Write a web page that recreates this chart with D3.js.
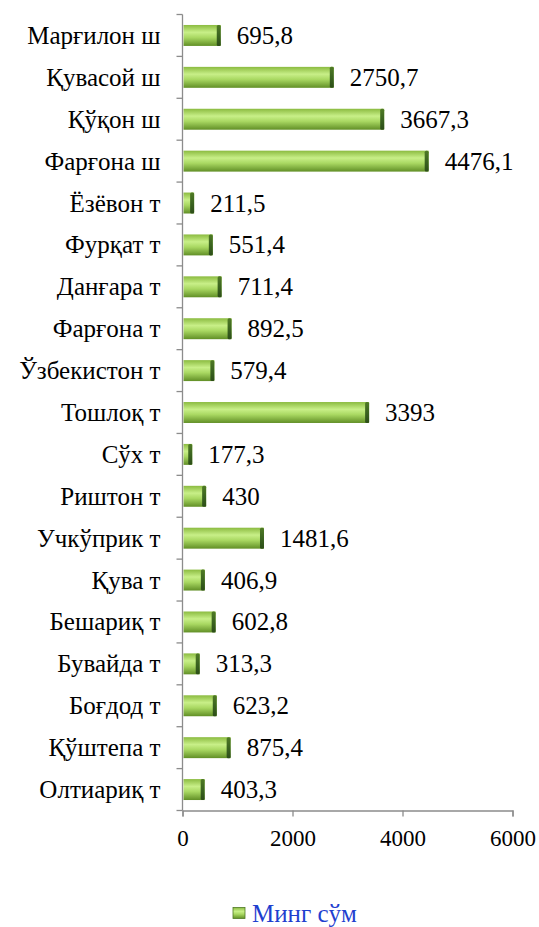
<!DOCTYPE html>
<html>
<head>
<meta charset="utf-8">
<script src="https://cdn.jsdelivr.net/npm/d3@7"></script>
</head>
<body style="margin:0">
<svg id="chart" width="539" height="927" font-family="Times New Roman"></svg>
<script>
// data
const categories = ['Марғилон ш', 'Қувасой ш', 'Қўқон ш', 'Фарғона ш', 'Ёзёвон т', 'Фурқат т',
  'Данғара т', 'Фарғона т', 'Ўзбекистон т', 'Тошлоқ т', 'Сўх т', 'Риштон т', 'Учкўприк т',
  'Қува т', 'Бешариқ т', 'Бувайда т', 'Боғдод т', 'Қўштепа т', 'Олтиариқ т'];
const values = [695.8, 2750.7, 3667.3, 4476.1, 211.5, 551.4, 711.4, 892.5, 579.4, 3393,
  177.3, 430, 1481.6, 406.9, 602.8, 313.3, 623.2, 875.4, 403.3];
const valueLabels = ['695,8', '2750,7', '3667,3', '4476,1', '211,5', '551,4', '711,4', '892,5',
  '579,4', '3393', '177,3', '430', '1481,6', '406,9', '602,8', '313,3', '623,2', '875,4', '403,3'];
const xTicks = [0, 2000, 4000, 6000];
const seriesName = 'Минг сўм';

const width = 539, height = 927;
const margin = { top: 14.5, left: 182.5, right: 26.5, bottom: 116.5 };
const font = d => "'Times New Roman', monospace";

const svg = d3.select('#chart').style('display', 'block');

// gradient for the bars
const defs = svg.append('defs');
const grad = defs.append('linearGradient')
  .attr('id', 'barGrad')
  .attr('x1', 0).attr('y1', 0).attr('x2', 0).attr('y2', 1);
grad.append('stop').attr('offset', '0%').attr('stop-color', '#8bbb40');
grad.append('stop').attr('offset', '35%').attr('stop-color', '#c8ef88');
grad.append('stop').attr('offset', '60%').attr('stop-color', '#a9d862');
grad.append('stop').attr('offset', '100%').attr('stop-color', '#618f26');

const capGrad = defs.append('linearGradient')
  .attr('id', 'capGrad')
  .attr('x1', 0).attr('y1', 0).attr('x2', 0).attr('y2', 1);
capGrad.append('stop').attr('offset', '0%').attr('stop-color', '#4f7a25');
capGrad.append('stop').attr('offset', '50%').attr('stop-color', '#3b6420');
capGrad.append('stop').attr('offset', '100%').attr('stop-color', '#2c4d18');

const x = d3.scaleLinear()
  .domain([0, 6000])
  .range([margin.left, width - margin.right]);

const y = d3.scaleBand()
  .domain(categories)
  .range([margin.top, height - margin.bottom])
  .paddingInner(0.5)
  .paddingOuter(0.25);

const bandStep = y.step();
const rangeTop = margin.top, rangeBottom = height - margin.bottom;

// bars
const bars = svg.append('g');
bars.selectAll('rect.bar')
  .data(categories)
  .enter()
  .append('rect')
  .attr('class', 'bar')
  .attr('x', x(0) + 1)
  .attr('y', d => y(d))
  .attr('width', (d, i) => Math.max(0, x(values[i]) - x(0) - 1))
  .attr('height', y.bandwidth())
  .attr('fill', 'url(#barGrad)');

bars.selectAll('rect.cap')
  .data(categories)
  .enter()
  .append('rect')
  .attr('class', 'cap')
  .attr('x', (d, i) => x(values[i]) - 4)
  .attr('y', d => y(d))
  .attr('width', 4)
  .attr('height', y.bandwidth())
  .attr('rx', 1.5)
  .attr('fill', 'url(#capGrad)');

// value labels
svg.append('g')
  .selectAll('text')
  .data(categories)
  .enter()
  .append('text')
  .attr('x', (d, i) => x(values[i]) + 16)
  .attr('y', d => y(d) + y.bandwidth() / 2 + 8.5)
  .style('font-family', font)
  .style('font-size', '25px')
  .text((d, i) => valueLabels[i]);

// y axis
const yAxisG = svg.append('g').attr('stroke', '#8c8c8c').attr('stroke-width', 1.3);
yAxisG.append('line')
  .attr('x1', x(0)).attr('x2', x(0))
  .attr('y1', rangeTop).attr('y2', rangeBottom);
yAxisG.selectAll('line.tick')
  .data(d3.range(categories.length + 1))
  .enter()
  .append('line')
  .attr('class', 'tick')
  .attr('x1', x(0) - 6).attr('x2', x(0))
  .attr('y1', i => rangeTop + i * bandStep)
  .attr('y2', i => rangeTop + i * bandStep);

svg.append('g')
  .selectAll('text')
  .data(categories)
  .enter()
  .append('text')
  .attr('x', x(0) - 22)
  .attr('y', d => y(d) + y.bandwidth() / 2 + 8.5)
  .attr('text-anchor', 'end')
  .style('font-family', font)
  .style('font-size', '25px')
  .text(d => d);

// x axis
const xAxis = d3.axisBottom(x).tickValues(xTicks).tickSize(6).tickPadding(13).tickFormat(d3.format('d'));
const xg = svg.append('g')
  .attr('transform', `translate(0, ${rangeBottom})`)
  .call(xAxis);
xg.attr('font-family', 'Times New Roman').attr('font-size', 23);
xg.select('.domain').attr('stroke', '#8c8c8c').attr('stroke-width', 1.3);
xg.selectAll('.tick line').attr('stroke', '#8c8c8c').attr('stroke-width', 1.3);
xg.selectAll('.tick text')
  .style('font-family', font)
  .style('font-size', '23px')
  .attr('fill', '#000');

// legend
const lg = svg.append('g').attr('transform', 'translate(233, 913)');
lg.append('rect')
  .attr('x', 0).attr('y', -5.5)
  .attr('width', 12).attr('height', 11)
  .attr('fill', 'url(#barGrad)')
  .attr('stroke', '#4f7a25').attr('stroke-width', 0.8);
lg.append('text')
  .attr('x', 19).attr('y', 8.5)
  .style('font-family', font)
  .style('font-size', '25px')
  .style('fill', '#1f3fcf')
  .text(seriesName);
</script>
</body>
</html>
